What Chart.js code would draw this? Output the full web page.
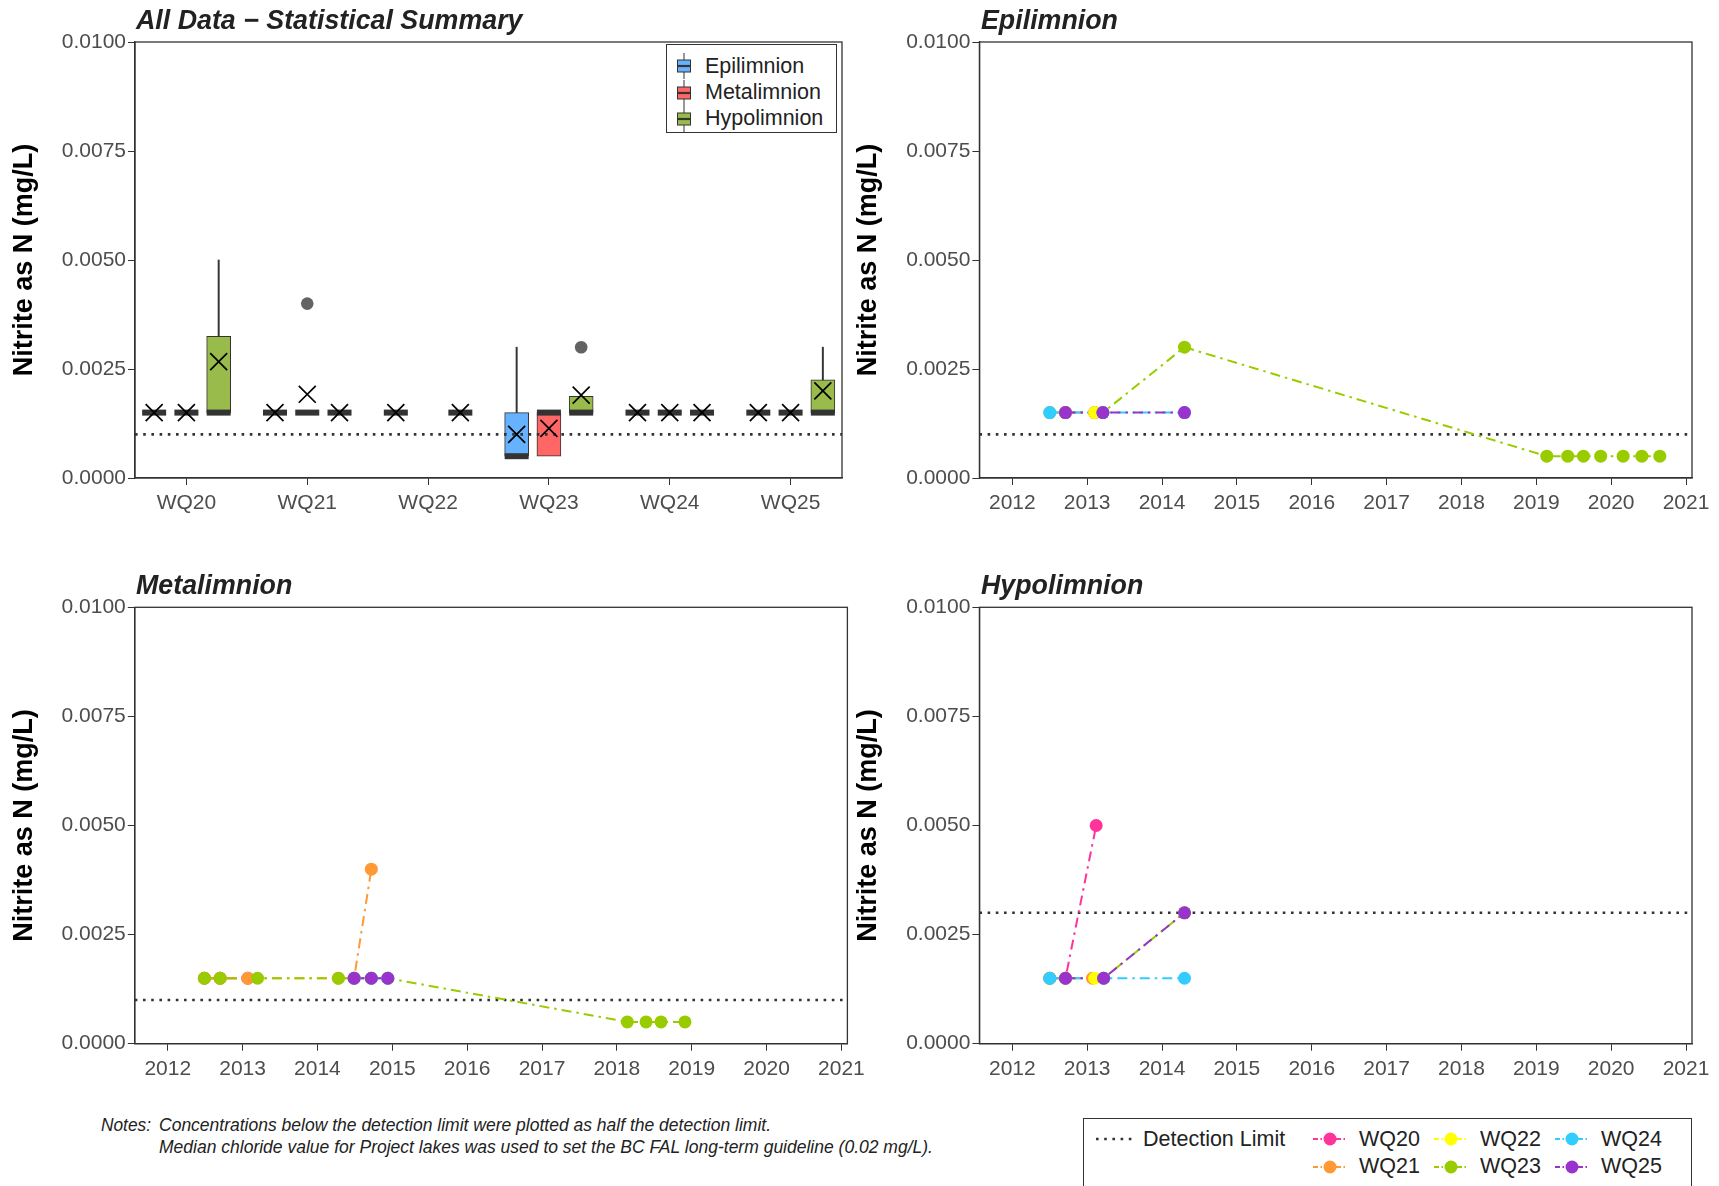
<!DOCTYPE html>
<html>
<head>
<meta charset="utf-8">
<script src="https://cdn.jsdelivr.net/npm/chart.js@4.4.1/dist/chart.umd.min.js"></script>
<style>
html,body{margin:0;padding:0;background:#fff;width:1719px;height:1186px;overflow:hidden;font-family:"Liberation Sans",Arial,sans-serif;}
canvas{position:absolute;}
.ptitle{position:absolute;font-weight:bold;font-style:italic;font-size:26.8px;color:#222;white-space:nowrap;line-height:1;}
.note{position:absolute;font-family:"Liberation Sans Narrow","Liberation Sans",Arial,sans-serif;font-style:italic;font-size:18px;line-height:22px;color:#222;white-space:nowrap;display:inline-block;transform-origin:0 50%;}
.lg{position:absolute;font-size:21.5px;line-height:1;color:#222;white-space:nowrap;}
.box{position:absolute;border:1px solid #333;box-sizing:border-box;background:#fff;}
svg{position:absolute;overflow:visible;}
</style>
</head>
<body>
<canvas id="cSummary" width="860" height="530" style="left:0;top:0"></canvas>
<canvas id="cEpi" width="879" height="530" style="left:840px;top:0"></canvas>
<canvas id="cMeta" width="890" height="560" style="left:0;top:530px"></canvas>
<canvas id="cHypo" width="879" height="560" style="left:840px;top:530px"></canvas>

<div class="ptitle" style="left:136px;top:7px">All Data − Statistical Summary</div>
<div class="ptitle" style="left:981px;top:7px">Epilimnion</div>
<div class="ptitle" style="left:136px;top:572px">Metalimnion</div>
<div class="ptitle" style="left:981px;top:572px">Hypolimnion</div>

<div class="box" id="boxLegend" style="left:666px;top:44px;width:171px;height:89px"></div>
<div class="box" id="siteLegend" style="left:1083px;top:1118px;width:609px;height:90px"></div>

<span class="note" style="left:101px;top:1114px" data-fit="50">Notes:</span>
<span class="note" style="left:159px;top:1114px" data-fit="612">Concentrations below the detection limit were plotted as half the detection limit.</span>
<span class="note" style="left:159px;top:1136px" data-fit="774">Median chloride value for Project lakes was used to set the BC FAL long-term guideline (0.02 mg/L).</span>

<script>
// ---------------- DATA ----------------
const sites = ['WQ20', 'WQ21', 'WQ22', 'WQ23', 'WQ24', 'WQ25'];
const siteColors = ['#FF3399', '#FF9933', '#FFFF00', '#99CC00', '#33CCFF', '#9933CC'];
const layerNames = ['Epilimnion', 'Metalimnion', 'Hypolimnion'];
const layerFill = ['#66B2FF', '#FF6666', '#99BB4C'];
const yTicks = [0, 0.0025, 0.005, 0.0075, 0.01];
const yearTicks = [2012, 2013, 2014, 2015, 2016, 2017, 2018, 2019, 2020, 2021];

const dlSummary = 0.001;
const dlEpi = 0.001;
const dlMeta = 0.001;
const dlHypo = 0.003;

// Box plot summaries, per site WQ20..WQ25
const epiQ1 = [0.0015, 0.0015, 0.0015, 0.0005, 0.0015, 0.0015];
const epiMedian = [0.0015, 0.0015, 0.0015, 0.0005, 0.0015, 0.0015];
const epiQ3 = [0.0015, 0.0015, 0.0015, 0.0015, 0.0015, 0.0015];
const epiWhiskerHigh = [0.0015, 0.0015, 0.0015, 0.003, 0.0015, 0.0015];
const epiMean = [0.0015, 0.0015, 0.0015, 0.0010, 0.0015, 0.0015];
const epiOutliers = [[], [], [], [], [], []];

const metaQ1 = [0.0015, 0.0015, null, 0.0005, 0.0015, 0.0015];
const metaMedian = [0.0015, 0.0015, null, 0.0015, 0.0015, 0.0015];
const metaQ3 = [0.0015, 0.0015, null, 0.0015, 0.0015, 0.0015];
const metaWhiskerHigh = [0.0015, 0.0015, null, 0.0015, 0.0015, 0.0015];
const metaMean = [0.0015, 0.00192, null, 0.00114, 0.0015, 0.0015];
const metaOutliers = [[], [0.004], [], [], [], []];

const hypoQ1 = [0.0015, 0.0015, 0.0015, 0.0015, 0.0015, 0.0015];
const hypoMedian = [0.0015, 0.0015, 0.0015, 0.0015, 0.0015, 0.0015];
const hypoQ3 = [0.00325, 0.0015, 0.0015, 0.001875, 0.0015, 0.00225];
const hypoWhiskerHigh = [0.005, 0.0015, 0.0015, 0.001875, 0.0015, 0.003];
const hypoMean = [0.00267, 0.0015, 0.0015, 0.0019, 0.0015, 0.002];
const hypoOutliers = [[], [], [], [0.003], [], []];

// Time series (decimal year, mg/L), per site WQ20..WQ25
const epiDates = [
  [2012.71, 2013.10],
  [2013.10],
  [2013.10],
  [2012.50, 2012.71, 2013.21, 2014.30, 2019.14, 2019.42, 2019.63, 2019.86, 2020.16, 2020.41, 2020.65],
  [2012.50, 2013.21, 2014.30],
  [2012.71, 2013.21, 2014.30]
];
const epiValues = [
  [0.0015, 0.0015],
  [0.0015],
  [0.0015],
  [0.0015, 0.0015, 0.0015, 0.003, 0.0005, 0.0005, 0.0005, 0.0005, 0.0005, 0.0005, 0.0005],
  [0.0015, 0.0015, 0.0015],
  [0.0015, 0.0015, 0.0015]
];
const metaDates = [
  [2012.49, 2012.70, 2013.07],
  [2012.49, 2012.70, 2013.07, 2014.28, 2014.49, 2014.72],
  [],
  [2012.49, 2012.70, 2013.20, 2014.28, 2014.49, 2014.72, 2014.94, 2018.14, 2018.39, 2018.59, 2018.91],
  [2014.49, 2014.72, 2014.94],
  [2014.49, 2014.72, 2014.94]
];
const metaValues = [
  [0.0015, 0.0015, 0.0015],
  [0.0015, 0.0015, 0.0015, 0.0015, 0.0015, 0.004],
  [],
  [0.0015, 0.0015, 0.0015, 0.0015, 0.0015, 0.0015, 0.0015, 0.0005, 0.0005, 0.0005, 0.0005],
  [0.0015, 0.0015, 0.0015],
  [0.0015, 0.0015, 0.0015]
];
const hypoDates = [
  [2012.50, 2012.71, 2013.12],
  [2013.07],
  [2013.10],
  [2012.50, 2012.71, 2013.22, 2014.30],
  [2012.50, 2013.22, 2014.30],
  [2012.71, 2013.22, 2014.30]
];
const hypoValues = [
  [0.0015, 0.0015, 0.005],
  [0.0015],
  [0.0015],
  [0.0015, 0.0015, 0.0015, 0.003],
  [0.0015, 0.0015, 0.0015],
  [0.0015, 0.0015, 0.003]
];

// ---------------- CONFIG ----------------
Chart.defaults.font.family = "'Liberation Sans', Arial, sans-serif";
Chart.defaults.color = '#4D4D4D';
Chart.defaults.animation = false;

const INK = '#333333';
const DODGE = 0.267;
const summaryXRange = [0.5745, 6.4255];
const yearXRange = [2011.56, 2021.08];
const lineDash = [10, 5, 2.5, 5];
const dotDash = [2.6, 5.6];

const frame = {
  id: 'frame',
  afterDatasetsDraw(chart) {
    const a = chart.chartArea, ctx = chart.ctx;
    ctx.save();
    ctx.strokeStyle = INK;
    ctx.lineWidth = 1.3;
    ctx.strokeRect(a.left, a.top, a.right - a.left, a.bottom - a.top);
    ctx.restore();
  }
};

function yAxis(w, titlePad) {
  return {
    type: 'linear', min: yTicks[0], max: yTicks[yTicks.length - 1],
    afterBuildTicks: s => { s.ticks = yTicks.map(v => ({ value: v })); },
    afterFit: s => { s.width = w; },
    ticks: { callback: v => Number(v).toFixed(4), font: { size: 21 }, color: '#4D4D4D', padding: 2 },
    grid: { drawOnChartArea: false, drawTicks: true, tickLength: 7, color: INK, lineWidth: 1 },
    border: { display: true, color: INK, width: 1.3 },
    title: { display: true, text: 'Nitrite as N (mg/L)', font: { size: 27, weight: 'bold' }, color: '#000', padding: { top: titlePad, bottom: 0 } }
  };
}

function xAxis(range, tickVals, labelFn, h) {
  return {
    type: 'linear', min: range[0], max: range[1], offset: false,
    afterBuildTicks: s => { s.ticks = tickVals.map(v => ({ value: v })); },
    afterFit: s => { s.height = h; },
    ticks: { callback: labelFn, font: { size: 21 }, color: '#4D4D4D', padding: 6, autoSkip: false, maxRotation: 0, minRotation: 0 },
    grid: { drawOnChartArea: false, drawTicks: true, tickLength: 7, color: INK, lineWidth: 1, offset: false },
    border: { display: true, color: INK, width: 1.3 }
  };
}

function baseOptions(padding, xCfg, yCfg) {
  return {
    responsive: false, devicePixelRatio: 1, animation: false, events: [],
    layout: { padding },
    plugins: { legend: { display: false }, tooltip: { enabled: false }, title: { display: false } },
    scales: { x: xCfg, y: yCfg }
  };
}

// ---------- Summary (box plot) chart ----------
const summaryLayers = [
  { q1: epiQ1, med: epiMedian, q3: epiQ3, hi: epiWhiskerHigh, mean: epiMean, out: epiOutliers },
  { q1: metaQ1, med: metaMedian, q3: metaQ3, hi: metaWhiskerHigh, mean: metaMean, out: metaOutliers },
  { q1: hypoQ1, med: hypoMedian, q3: hypoQ3, hi: hypoWhiskerHigh, mean: hypoMean, out: hypoOutliers }
];

const summaryDatasets = [];
summaryLayers.forEach((L, li) => {
  const off = (li - 1) * DODGE;
  const boxes = [], whisk = [], meds = [], means = [], outs = [];
  sites.forEach((s, si) => {
    if (L.q1[si] == null) return;
    const x = si + 1 + off;
    boxes.push({ x, y: [L.q1[si], L.q3[si]] });
    if (L.hi[si] > L.q3[si]) whisk.push({ x, y: [L.q3[si], L.hi[si]] });
    meds.push({ x, y: L.med[si] });
    means.push({ x, y: L.mean[si] });
    L.out[si].forEach(v => outs.push({ x, y: v }));
  });
  summaryDatasets.push({ type: 'bar', label: layerNames[li], data: boxes, backgroundColor: layerFill[li], borderColor: INK, borderWidth: 1, borderSkipped: false, barThickness: 24, grouped: false, order: 20 });
  summaryDatasets.push({ type: 'bar', label: layerNames[li] + ' whisker', data: whisk, backgroundColor: INK, borderWidth: 0, barThickness: 1.3, grouped: false, order: 19 });
  summaryDatasets.push({ type: 'scatter', label: layerNames[li] + ' median', data: meds, pointStyle: 'line', pointRadius: 12, pointBorderWidth: 6, pointBorderColor: INK, order: 5 });
  summaryDatasets.push({ type: 'scatter', label: layerNames[li] + ' outlier', data: outs, pointStyle: 'circle', pointRadius: 6.3, pointBackgroundColor: '#636363', pointBorderWidth: 0, order: 4 });
  summaryDatasets.push({ type: 'scatter', label: layerNames[li] + ' mean', data: means, pointStyle: 'crossRot', pointRadius: 12, pointBorderWidth: 1.7, pointBorderColor: '#000', order: 3 });
});
summaryDatasets.push({
  type: 'line', label: 'Detection Limit',
  data: [{ x: summaryXRange[0], y: dlSummary }, { x: summaryXRange[1], y: dlSummary }],
  borderColor: INK, borderWidth: 2.6, borderDash: dotDash, pointRadius: 0, fill: false, order: 10
});

new Chart(document.getElementById('cSummary'), {
  type: 'bar',
  data: { datasets: summaryDatasets },
  options: baseOptions({ left: 0, top: 42, right: 18, bottom: 0 },
    xAxis(summaryXRange, sites.map((s, i) => i + 1), v => sites[Math.round(v) - 1], 52),
    yAxis(135, 8),
  ),
  plugins: [frame]
});

// ---------- Time series charts ----------
function seriesDatasets(dates, values, dl) {
  const ds = [{
    label: 'Detection Limit', showLine: true,
    data: [{ x: yearXRange[0], y: dl }, { x: yearXRange[1], y: dl }],
    borderColor: INK, borderWidth: 2.6, borderDash: dotDash, pointRadius: 0, order: 30
  }];
  sites.forEach((s, si) => {
    const pts = dates[si].map((d, k) => ({ x: d, y: values[si][k] }));
    ds.push({ label: s + ' line', showLine: true, data: pts, borderColor: siteColors[si], borderWidth: 2, borderDash: lineDash, pointRadius: 0, order: 20 - si });
  });
  sites.forEach((s, si) => {
    const pts = dates[si].map((d, k) => ({ x: d, y: values[si][k] }));
    ds.push({ label: s, showLine: false, data: pts, pointRadius: 6.5, pointBackgroundColor: siteColors[si], pointBorderWidth: 0, order: 6 - si });
  });
  return ds;
}

function seriesChart(id, dates, values, dl, padding, yW, titlePad, xH) {
  new Chart(document.getElementById(id), {
    type: 'scatter',
    data: { datasets: seriesDatasets(dates, values, dl) },
    options: baseOptions(padding,
      xAxis(yearXRange, yearTicks, v => String(v), xH),
      yAxis(yW, titlePad)),
    plugins: [frame]
  });
}

seriesChart('cEpi', epiDates, epiValues, dlEpi, { left: 0, top: 42, right: 27, bottom: 0 }, 139.4, 12, 52);
seriesChart('cMeta', metaDates, metaValues, dlMeta, { left: 0, top: 77.3, right: 42.6, bottom: 0 }, 134.8, 8, 46.3);
seriesChart('cHypo', hypoDates, hypoValues, dlHypo, { left: 0, top: 77.3, right: 27, bottom: 0 }, 139.4, 12, 46.3);

// ---------- Legends (HTML) ----------
const SVGNS = 'http://www.w3.org/2000/svg';
function svgEl(tag, attrs) {
  const e = document.createElementNS(SVGNS, tag);
  Object.keys(attrs).forEach(k => e.setAttribute(k, attrs[k]));
  return e;
}
function addText(parent, text, left, centerY) {
  const d = document.createElement('div');
  d.className = 'lg';
  d.textContent = text;
  d.style.left = left + 'px';
  d.style.top = (centerY - 10.5) + 'px';
  parent.appendChild(d);
}

// Box legend (inside summary panel)
const boxLegendRows = [66, 92.5, 118.5];
layerNames.forEach((name, li) => {
  const y = boxLegendRows[li];
  const svg = svgEl('svg', { width: 16, height: 26 });
  svg.style.left = '676px';
  svg.style.top = (y - 13) + 'px';
  svg.appendChild(svgEl('line', { x1: 8, y1: 0, x2: 8, y2: 26, stroke: INK, 'stroke-width': 1 }));
  svg.appendChild(svgEl('rect', { x: 1.5, y: 7, width: 13, height: 12, fill: layerFill[li], stroke: INK, 'stroke-width': 1 }));
  svg.appendChild(svgEl('line', { x1: 1.5, y1: 13, x2: 14.5, y2: 13, stroke: INK, 'stroke-width': 2.2 }));
  document.body.appendChild(svg);
  addText(document.body, name, 705, y);
});

// Site legend (bottom)
const legendRows = [1139, 1166.5];
const legendSymX = [1313, 1434, 1555];
const legendTextX = [1359, 1480, 1601];
{
  const svg = svgEl('svg', { width: 36, height: 10 });
  svg.style.left = '1096px';
  svg.style.top = (legendRows[0] - 5) + 'px';
  svg.appendChild(svgEl('line', { x1: 0, y1: 5, x2: 36, y2: 5, stroke: INK, 'stroke-width': 2.6, 'stroke-dasharray': dotDash.join(' ') }));
  document.body.appendChild(svg);
  addText(document.body, 'Detection Limit', 1143, legendRows[0]);
}
sites.forEach((s, si) => {
  const col = Math.floor(si / 2), row = si % 2;
  const y = legendRows[row];
  const svg = svgEl('svg', { width: 34, height: 14 });
  svg.style.left = legendSymX[col] + 'px';
  svg.style.top = (y - 7) + 'px';
  svg.appendChild(svgEl('line', { x1: 0, y1: 7, x2: 34, y2: 7, stroke: siteColors[si], 'stroke-width': 2, 'stroke-dasharray': '5 2.5 1.5 2.5' }));
  svg.appendChild(svgEl('circle', { cx: 17, cy: 7, r: 6.5, fill: siteColors[si] }));
  document.body.appendChild(svg);
  addText(document.body, s, legendTextX[col], y);
});

// fit the narrow note lines to their measured widths
document.querySelectorAll('[data-fit]').forEach(el => {
  const target = +el.dataset.fit;
  const w = el.getBoundingClientRect().width;
  if (w > 0) el.style.transform = 'scaleX(' + (target / w) + ')';
});
</script>
</body>
</html>
